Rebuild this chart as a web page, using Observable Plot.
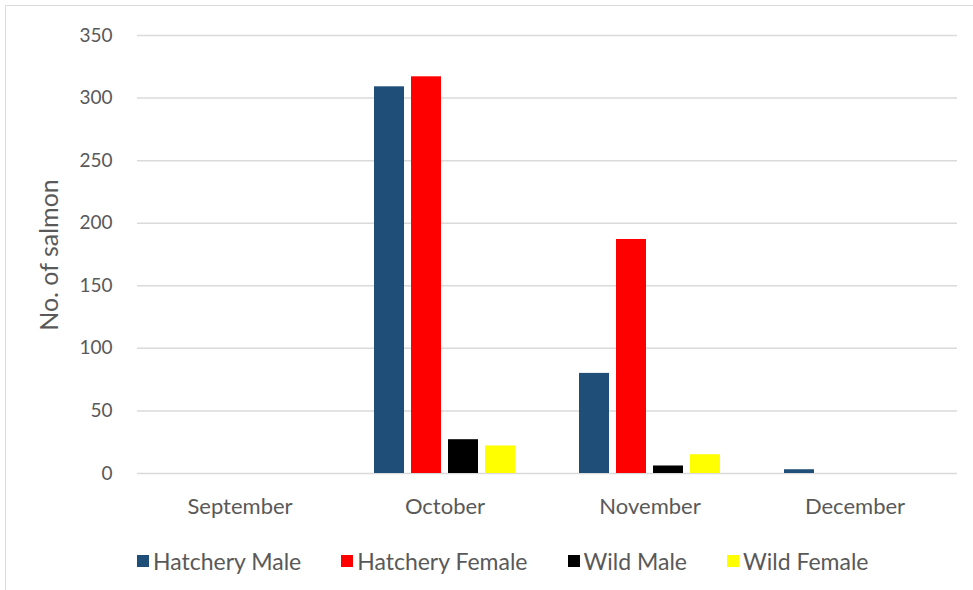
<!DOCTYPE html>
<html><head><meta charset="utf-8">
<script src="https://cdn.jsdelivr.net/npm/d3@7"></script>
<script src="https://cdn.jsdelivr.net/npm/@observablehq/plot@0.6"></script>
<style>
html,body{margin:0;padding:0;background:#fff;}
body{width:973px;height:590px;position:relative;overflow:hidden;font-family:Lato,"Open Sans",sans-serif;color:#595959;}
#frame{position:absolute;left:5px;top:5px;width:990px;height:600px;border-left:1px solid #dcdcdc;border-top:1px solid #dcdcdc;}
#chart{position:absolute;left:0;top:0;}
#ylabel{position:absolute;left:48px;top:255px;transform:translate(-50%,-50%) rotate(-90deg);font-size:25px;white-space:nowrap;color:#595959;}
#legend{position:absolute;left:137px;top:547px;display:flex;align-items:center;font-size:23px;color:#595959;}
#legend .item{display:flex;align-items:center;margin-right:40px;}
#legend .sw{width:12px;height:12px;margin-right:4px;}
</style>
</head><body>
<div id="frame"></div>
<div id="chart"></div>
<div id="ylabel">No. of salmon</div>
<div id="legend"></div>
<script>
const months = ["September", "October", "November", "December"];
const series = ["Hatchery Male", "Hatchery Female", "Wild Male", "Wild Female"];
const hatcheryMale   = [0, 309, 80, 3];
const hatcheryFemale = [0, 317, 187, 0];
const wildMale       = [0, 27, 6, 0];
const wildFemale     = [0, 22, 15, 0];
const colors = ["#1f4e79", "#ff0000", "#000000", "#ffff00"];
const yTicks = [0, 50, 100, 150, 200, 250, 300, 350];

const values = [hatcheryMale, hatcheryFemale, wildMale, wildFemale];
const data = [];
months.forEach((m, i) => series.forEach((s, j) => data.push({month: m, series: s, value: values[j][i]})));

const chart = Plot.plot({
  width: 973,
  height: 530,
  marginLeft: 136,
  marginRight: 15,
  marginTop: 35,
  marginBottom: 57,
  style: {fontFamily: "Lato, 'Open Sans', sans-serif", color: "#595959", background: "transparent"},
  fx: {domain: months, padding: 0, label: null},
  x: {domain: series, paddingInner: 0.2, paddingOuter: 0.84, axis: null},
  y: {domain: [0, 350], label: null},
  color: {domain: series, range: colors},
  marks: [
    Plot.ruleY(yTicks, {stroke: "#dadada", strokeWidth: 1.5}),
    Plot.barY(data, {fx: "month", x: "series", y: "value", fill: "series"}),
    Plot.axisY({ticks: yTicks, tickSize: 0, tickPadding: 25, label: null, fontSize: 19, fill: "#595959"}),
    Plot.axisFx({anchor: "bottom", tickSize: 0, tickPadding: 25, label: null, fontSize: 22, fill: "#595959"})
  ]
});
document.getElementById("chart").appendChild(chart);

const legend = document.getElementById("legend");
series.forEach((s, i) => {
  const item = document.createElement("div");
  item.className = "item";
  const sw = document.createElement("div");
  sw.className = "sw";
  sw.style.background = colors[i];
  const t = document.createElement("span");
  t.textContent = s;
  item.appendChild(sw);
  item.appendChild(t);
  legend.appendChild(item);
});
</script>
</body></html>
